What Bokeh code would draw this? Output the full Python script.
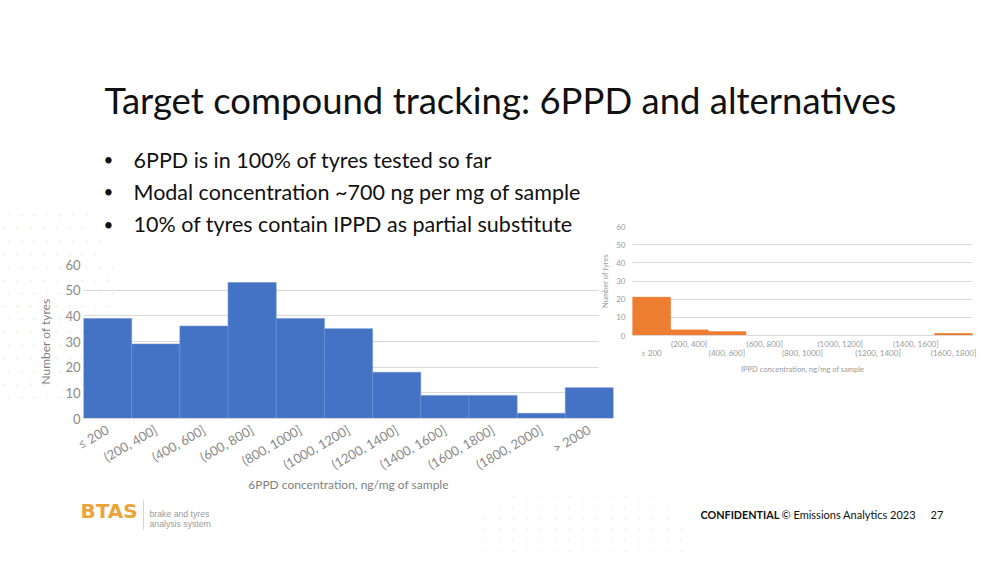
import math
import numpy as np
from bokeh.plotting import figure
from bokeh.models import Range1d, FactorRange, LinearAxis, FixedTicker
from bokeh.layouts import column, row
from bokeh.embed import file_html
from bokeh.resources import INLINE
from bokeh.core.properties import value

# ---------------- data ----------------
ppd_bins = ["≤ 200", "(200, 400]", "(400, 600]", "(600, 800]", "(800, 1000]",
            "(1000, 1200]", "(1200, 1400]", "(1400, 1600]", "(1600, 1800]",
            "(1800, 2000]", "> 2000"]
ppd_counts = [39, 29, 36, 53, 39, 35, 18, 9, 9, 2, 12]

ippd_bins = ["≤ 200", "(200, 400]", "(400, 600]", "(600, 800]", "(800, 1000]",
             "(1000, 1200]", "(1200, 1400]", "(1400, 1600]", "(1600, 1800]"]
ippd_counts = [21, 3, 2, 0, 0, 0, 0, 0, 1]

y_ticks = [0, 10, 20, 30, 40, 50, 60]

title_text = "Target compound tracking: 6PPD and alternatives"
bullets = ["6PPD is in 100% of tyres tested so far",
           "Modal concentration ~700 ng per mg of sample",
           "10% of tyres contain IPPD as partial substitute"]

FONT = "Lato"
BLUE = "#4472C4"
ORANGE = "#ED7D31"
GRID = "#d9d9d9"

# ---------------- background slide ----------------
bg = figure(width=1000, height=562, x_range=Range1d(0, 1000), y_range=Range1d(562, 0),
            x_axis_location=None, y_axis_location=None,
            min_border_left=0, min_border_right=0, min_border_top=0, min_border_bottom=0,
            output_backend="svg", toolbar_location=None)
bg.grid.visible = False
bg.outline_line_color = None

# faint decorative dots
gx, gy = np.meshgrid(np.arange(4, 120, 13), np.arange(215, 410, 13))
gx = gx.ravel(); gy = gy.ravel()
m = np.hypot(gx + 60, gy - 310) < 175
bg.scatter(gx[m] + (gy[m] % 2) * 4, gy[m], size=2.5, color="#eeeadc", alpha=0.6, line_color=None)
hx, hy = np.meshgrid(np.arange(485, 690, 14), np.arange(496, 560, 11))
hx = hx.ravel(); hy = hy.ravel()
m2 = np.hypot((hx - 580) / 1.8, hy - 540) < 60
bg.scatter(hx[m2], hy[m2], size=2.5, color="#efebdf", alpha=0.5, line_color=None)

MID = "middle"
bg.text(x=[104], y=[99], text=[title_text], text_font=value(FONT), text_font_size="36.5px",
        text_color="#111111", text_baseline=MID)
bg.text(x=[103, 103, 103], y=[159, 191, 223.5], text=["•", "•", "•"], text_font=value(FONT),
        text_font_size="17px", text_color="#111111", text_baseline=MID)
bg.text(x=[133, 133, 133], y=[159, 191, 223.5], text=bullets, text_font=value(FONT),
        text_font_size="21.5px", text_color="#111111", text_baseline=MID)

# footer
bg.text(x=[80], y=[510], text=["BTAS"], text_font=value("DejaVu Sans"), text_font_style="bold",
        text_font_size="20px", text_color="#EBA43A", text_baseline=MID)
bg.segment(x0=[143], y0=[500], x1=[143], y1=[529], line_color="#d5d5d5", line_width=1)
bg.text(x=[149, 149], y=[513, 523], text=["brake and tyres", "analysis system"],
        text_font=value("Liberation Sans"), text_font_size="8.7px", text_color="#9a9a9a",
        text_baseline=MID)
bg.text(x=[700], y=[514], text=["CONFIDENTIAL"], text_font=value(FONT), text_font_style="bold",
        text_font_size="10.8px", text_color="#111111", text_baseline=MID)
bg.text(x=[781], y=[514], text=["© Emissions Analytics 2023"], text_font=value(FONT),
        text_font_size="11px", text_color="#111111", text_baseline=MID)
bg.text(x=[930], y=[514], text=["27"], text_font=value(FONT),
        text_font_size="11px", text_color="#111111", text_baseline=MID)

# ---------------- right chart (IPPD) ----------------
P2_TOP, P2_LEFT = 215, 598
P2_BL, P2_BB, P2_BT = 30, 40, 11
n2 = len(ippd_bins)
ippd_pos = [i + 0.5 for i in range(n2)]          # centre of each bin on the index scale
p2 = figure(x_range=Range1d(0, n2), y_range=Range1d(0, 60),
            frame_width=340, frame_height=109, x_axis_location=None,
            min_border_left=P2_BL, min_border_right=12, min_border_top=P2_BT, min_border_bottom=P2_BB,
            output_backend="svg", toolbar_location=None)
p2.border_fill_color = "white"
p2.outline_line_color = None
p2.vbar(x=ippd_pos, top=ippd_counts, width=1.0, fill_color=ORANGE, line_color=ORANGE)
p2.xgrid.visible = False
p2.ygrid.grid_line_color = GRID
p2.yaxis.ticker = FixedTicker(ticks=y_ticks)

ax_up = LinearAxis(ticker=FixedTicker(ticks=[ippd_pos[i] for i in range(n2) if i % 2 == 1]),
                   major_label_overrides={ippd_pos[i]: ippd_bins[i] for i in range(n2) if i % 2 == 1})
ax_lo = LinearAxis(ticker=FixedTicker(ticks=[ippd_pos[i] for i in range(n2) if i % 2 == 0]),
                   major_label_overrides={ippd_pos[i]: ippd_bins[i] for i in range(n2) if i % 2 == 0})
p2.add_layout(ax_up, "below")
p2.add_layout(ax_lo, "below")
for ax in (ax_up, ax_lo, p2.yaxis[0]):
    ax.major_tick_line_color = None
    ax.minor_tick_line_color = None
    ax.major_tick_out = 0
    ax.major_tick_in = 0
    ax.minor_tick_out = 0
    ax.major_label_text_font = FONT
    ax.major_label_text_font_size = "8px"
    ax.major_label_text_color = "#9a9a9a"
    ax.axis_label_text_font = FONT
    ax.axis_label_text_font_size = "7.5px"
    ax.axis_label_text_font_style = "normal"
    ax.axis_label_text_color = "#9a9a9a"
ax_up.axis_line_color = GRID
ax_up.major_label_standoff = 3
ax_lo.axis_line_color = None
ax_lo.major_label_standoff = -4
ax_lo.axis_label = "IPPD concentration, ng/mg of sample"
ax_lo.axis_label_standoff = 4
p2.yaxis.axis_line_color = None
p2.yaxis.major_label_standoff = 7
p2.yaxis.axis_label = "Number of tyres"
p2.yaxis.axis_label_standoff = 3

# ---------------- left chart (6PPD) ----------------
P1_TOP, P1_BT, P1_BB = 240, 24, 100
p1 = figure(x_range=FactorRange(*ppd_bins), y_range=Range1d(0, 60),
            frame_width=530, frame_height=154,
            min_border_left=83, min_border_right=12, min_border_top=P1_BT, min_border_bottom=P1_BB,
            output_backend="svg", toolbar_location=None)
p1.border_fill_alpha = 0
p1.background_fill_alpha = 0
p1.outline_line_color = None
p1.vbar(x=ppd_bins, top=ppd_counts, width=1.0, fill_color=BLUE, line_color="#6d90d2", line_width=0.6)
p1.xgrid.visible = False
p1.ygrid.grid_line_color = GRID
p1.yaxis.ticker = FixedTicker(ticks=y_ticks)
for ax in (p1.xaxis[0], p1.yaxis[0]):
    ax.major_tick_line_color = None
    ax.minor_tick_line_color = None
    ax.major_tick_out = 0
    ax.major_tick_in = 0
    ax.major_label_text_font = FONT
    ax.major_label_text_font_size = "13px"
    ax.major_label_text_color = "#8a8a8a"
    ax.axis_label_text_font = FONT
    ax.axis_label_text_font_size = "12px"
    ax.axis_label_text_font_style = "normal"
    ax.axis_label_text_color = "#7f7f7f"
p1.yaxis.axis_line_color = None
p1.yaxis.major_label_standoff = 3
p1.yaxis.axis_label = "Number of tyres"
p1.yaxis.axis_label_standoff = 9
p1.xaxis.axis_line_color = GRID
p1.xaxis.major_label_orientation = math.pi / 6
p1.xaxis.major_label_standoff = 10
p1.xaxis.axis_label = "6PPD concentration, ng/mg of sample"
p1.xaxis.axis_label_standoff = -5

r_bg = row(bg)
r_p1 = row(p1, margin=(P1_TOP - 562, 0, 0, 0))
r_p2 = row(p2, margin=(P2_TOP - (P1_TOP + P1_BT + 154 + P1_BB), 0, 0, P2_LEFT))
page = column(r_bg, r_p1, r_p2, spacing=0)
open("out.html", "w").write(file_html(page, INLINE))
